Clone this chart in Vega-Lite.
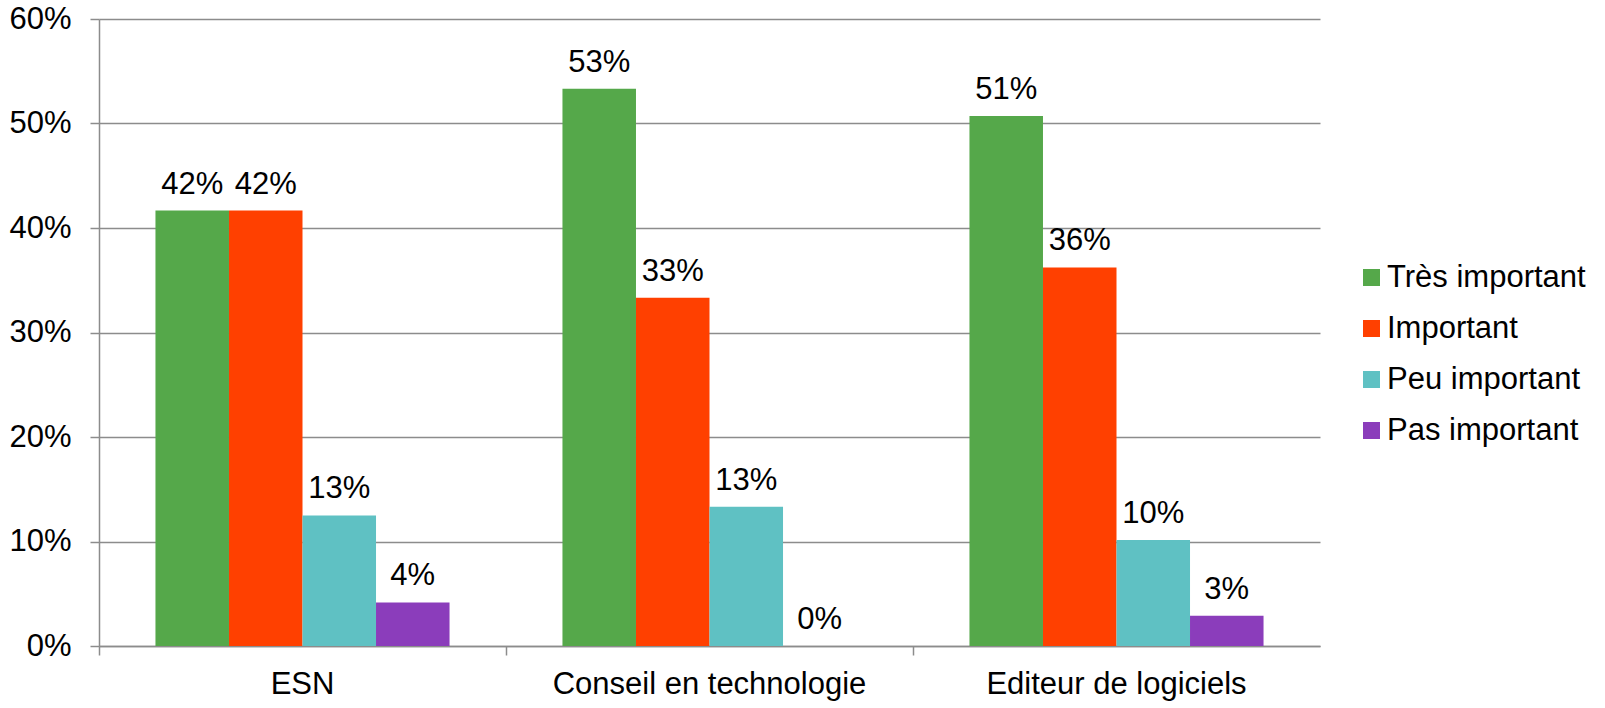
{
  "$schema": "https://vega.github.io/schema/vega-lite/v6.json",
  "autosize": "none",
  "width": 1221,
  "height": 627,
  "padding": {"left": 99, "top": 19, "right": 285, "bottom": 62},
  "background": "white",
  "data": {
    "values": [
      {"secteur": "ESN", "importance": "Très important", "part": 0.4167},
      {"secteur": "ESN", "importance": "Important", "part": 0.4167},
      {"secteur": "ESN", "importance": "Peu important", "part": 0.125},
      {"secteur": "ESN", "importance": "Pas important", "part": 0.0417},
      {"secteur": "Conseil en technologie", "importance": "Très important", "part": 0.5333},
      {"secteur": "Conseil en technologie", "importance": "Important", "part": 0.3333},
      {"secteur": "Conseil en technologie", "importance": "Peu important", "part": 0.1333},
      {"secteur": "Conseil en technologie", "importance": "Pas important", "part": 0},
      {"secteur": "Editeur de logiciels", "importance": "Très important", "part": 0.5072},
      {"secteur": "Editeur de logiciels", "importance": "Important", "part": 0.3623},
      {"secteur": "Editeur de logiciels", "importance": "Peu important", "part": 0.1014},
      {"secteur": "Editeur de logiciels", "importance": "Pas important", "part": 0.029}
    ]
  },
  "encoding": {
    "x": {
      "field": "secteur",
      "type": "nominal",
      "sort": ["ESN", "Conseil en technologie", "Editeur de logiciels"],
      "scale": {"paddingInner": 0, "paddingOuter": 0},
      "axis": {
        "title": null,
        "labelAngle": 0,
        "labelLimit": 0,
        "bandPosition": 0,
        "grid": false,
        "ticks": true,
        "tickSize": 9,
        "tickColor": "#8c8c8c",
        "tickWidth": 1.5,
        "domainColor": "#8c8c8c",
        "domainWidth": 1.5,
        "labelFont": "Liberation Sans",
        "labelFontSize": 31,
        "labelColor": "#000000",
        "labelPadding": 14
      }
    },
    "xOffset": {
      "field": "importance",
      "type": "nominal",
      "sort": ["Très important", "Important", "Peu important", "Pas important"],
      "scale": {"paddingInner": 0, "paddingOuter": 0.768}
    },
    "y": {
      "field": "part",
      "type": "quantitative",
      "scale": {"domain": [0, 0.6], "nice": false},
      "axis": {
        "title": null,
        "format": ".0%",
        "values": [0, 0.1, 0.2, 0.3, 0.4, 0.5, 0.6],
        "grid": true,
        "gridColor": "#8c8c8c",
        "gridWidth": 1.5,
        "tickSize": 9,
        "tickColor": "#8c8c8c",
        "tickWidth": 1.5,
        "domainColor": "#8c8c8c",
        "domainWidth": 1.5,
        "labelFont": "Liberation Sans",
        "labelFontSize": 31,
        "labelColor": "#000000",
        "labelPadding": 19
      }
    }
  },
  "layer": [
    {
      "mark": {"type": "bar"},
      "encoding": {
        "color": {
          "field": "importance",
          "type": "nominal",
          "sort": ["Très important", "Important", "Peu important", "Pas important"],
          "scale": {
            "domain": ["Très important", "Important", "Peu important", "Pas important"],
            "range": ["#55A84A", "#FF4000", "#5FC1C3", "#8B3DBB"]
          },
          "legend": {
            "title": null,
            "orient": "none",
            "legendX": 1257,
            "legendY": 243,
            "symbolType": "square",
            "symbolSize": 289,
            "symbolStrokeWidth": 0,
            "labelFont": "Liberation Sans",
            "labelFontSize": 31,
            "labelColor": "#000000",
            "labelLimit": 0,
            "labelOffset": 0,
            "rowPadding": 19,
            "padding": 0
          }
        }
      }
    },
    {
      "mark": {
        "type": "text",
        "dy": -17,
        "baseline": "alphabetic",
        "font": "Liberation Sans",
        "fontSize": 31,
        "color": "#000000"
      },
      "encoding": {
        "text": {"field": "part", "type": "quantitative", "format": ".0%"}
      }
    }
  ],
  "config": {
    "view": {"stroke": null}
  }
}
